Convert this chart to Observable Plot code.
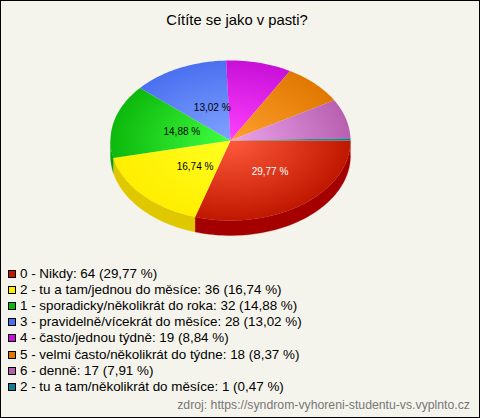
<!DOCTYPE html>
<html><head><meta charset="utf-8">
<script src="https://cdn.jsdelivr.net/npm/d3@7"></script>
<script src="https://cdn.jsdelivr.net/npm/@observablehq/plot@0.6"></script>
<style>
html,body{margin:0;padding:0;background:#f5f4ec;}
#box{position:relative;width:480px;height:418px;box-sizing:border-box;background:#f5f4ec;box-shadow:inset 1px 1px 0 #000,inset -1px -1px 0 #000;overflow:hidden;font-family:"Liberation Sans",Arial,sans-serif;color:#000;}
#title{height:38px;line-height:40px;text-align:center;font-size:14.8px;transform:translateX(-3px);}
#legend{margin-top:6px;padding-left:8px;}
.row{height:16.1px;line-height:16px;font-size:13.42px;display:flex;align-items:center;white-space:pre;}
.sw{display:inline-block;width:6px;height:6px;border:1px solid #000;margin-right:4px;flex:none;}
#src{position:absolute;right:10px;top:398px;font-size:12.25px;color:#777;line-height:14px;}
svg{display:block;}
</style></head>
<body><div id="box"><div id="title"></div><div id="chart"></div><div id="legend"></div><div id="src"></div></div>
<script>
const titleText = "Cítíte se jako v pasti?";
const sourceText = "zdroj: https://syndrom-vyhoreni-studentu-vs.vyplnto.cz";
const labels = ["0 - Nikdy","2 - tu a tam/jednou do měsíce","1 - sporadicky/několikrát do roka","3 - pravidelně/vícekrát do měsíce","4 - často/jednou týdně","5 - velmi často/několikrát do týdne","6 - denně","2 - tu a tam/několikrát do měsíce"];
const counts = [64,36,32,28,19,18,17,1];
const percents = [29.77,16.74,14.88,13.02,8.84,8.37,7.91,0.47];
const baseColors = ["#c01800","#ffee00","#0cb80c","#4a70f0","#c810d8","#e07800","#b860b0","#1a7a90"];
const innerColors = ["#ff5a3c","#ffff20","#40ff40","#80a4ff","#ff40ff","#ffa030","#eca4ec","#6a8a90"];
const sideColors = ["#a50000","#e0c800","#08a008","#3a58c0","#a010a8","#b86000","#905088","#146070"];
const labelColors = ["#fff","#000","#000","#000"];

const depth = 0.1875;
const comma = v => v.toFixed(2).replace(".", ",");
const total = d3.sum(counts);
let acc = 0;
const slices = counts.map((c,i)=>{ const a0=acc; acc+=c/total*2*Math.PI; return {i,a0,a1:acc}; });
const steps = (a0,a1)=>{ const n=Math.max(2,Math.ceil((a1-a0)/0.03)); return d3.range(n+1).map(k=>a0+(a1-a0)*k/n); };
const face = s => [{x:0,y:0},...steps(s.a0,s.a1).map(a=>({x:Math.cos(a),y:Math.sin(a)}))];
const wall = s => {
  const a0=Math.min(s.a0,Math.PI), a1=Math.min(s.a1,Math.PI);
  if(a1<=a0) return [];
  const st=steps(a0,a1);
  return [...st.map(a=>({x:Math.cos(a),y:Math.sin(a)})),...st.slice().reverse().map(a=>({x:Math.cos(a),y:Math.sin(a)+depth}))];
};
const labelData = slices.filter(s=>percents[s.i]>=10).map(s=>{const m=(s.a0+s.a1)/2; return {x:0.47*Math.cos(m),y:0.47*Math.sin(m),t:comma(percents[s.i])+" %",c:labelColors[s.i]};});

const defs = (index,{x,y})=>{
  const ns="http://www.w3.org/2000/svg";
  const d=document.createElementNS(ns,"defs");
  slices.forEach(s=>{
    const g=document.createElementNS(ns,"radialGradient");
    g.setAttribute("id","g"+s.i);
    g.setAttribute("gradientUnits","userSpaceOnUse");
    g.setAttribute("cx",0);g.setAttribute("cy",0);g.setAttribute("r",1);
    g.setAttribute("gradientTransform",`translate(${x(0)},${y(0)}) scale(${x(1)-x(0)},${y(1)-y(0)})`);
    [[0,innerColors[s.i]],[1,baseColors[s.i]]].forEach(([o,c])=>{
      const st=document.createElementNS(ns,"stop");st.setAttribute("offset",o);st.setAttribute("stop-color",c);g.appendChild(st);
    });
    d.appendChild(g);
  });
  return d;
};

const chart = Plot.plot({
  width:480,height:222,marginTop:0,marginRight:0,marginBottom:0,marginLeft:0,
  style:{background:"transparent",fontFamily:'"Liberation Sans",Arial,sans-serif'},
  x:{domain:[-1,1],range:[110,350],axis:null},
  y:{domain:[-1,1],range:[22,182],axis:null},
  marks:[
    defs,
    ...slices.map(s=>Plot.line(wall(s),{x:"x",y:"y",fill:sideColors[s.i],stroke:sideColors[s.i],strokeWidth:0.3})),
    ...slices.map(s=>Plot.line(face(s),{x:"x",y:"y",fill:`url(#g${s.i})`,stroke:"none"})),
    Plot.text(labelData,{x:"x",y:"y",text:"t",fill:d=>d.c,dx:6,dy:1,fontSize:10})
  ],
  color:{type:"identity"}
});
document.getElementById("chart").appendChild(chart);
document.getElementById("title").textContent=titleText;
document.getElementById("src").textContent=sourceText;
const lg=document.getElementById("legend");
labels.forEach((l,i)=>{
  const r=document.createElement("div");r.className="row";
  const sw=document.createElement("span");sw.className="sw";sw.style.background=baseColors[i];
  const t=document.createElement("span");t.textContent=`${l}: ${counts[i]} (${comma(percents[i])} %)`;
  r.append(sw,t);lg.appendChild(r);
});
</script></body></html>
